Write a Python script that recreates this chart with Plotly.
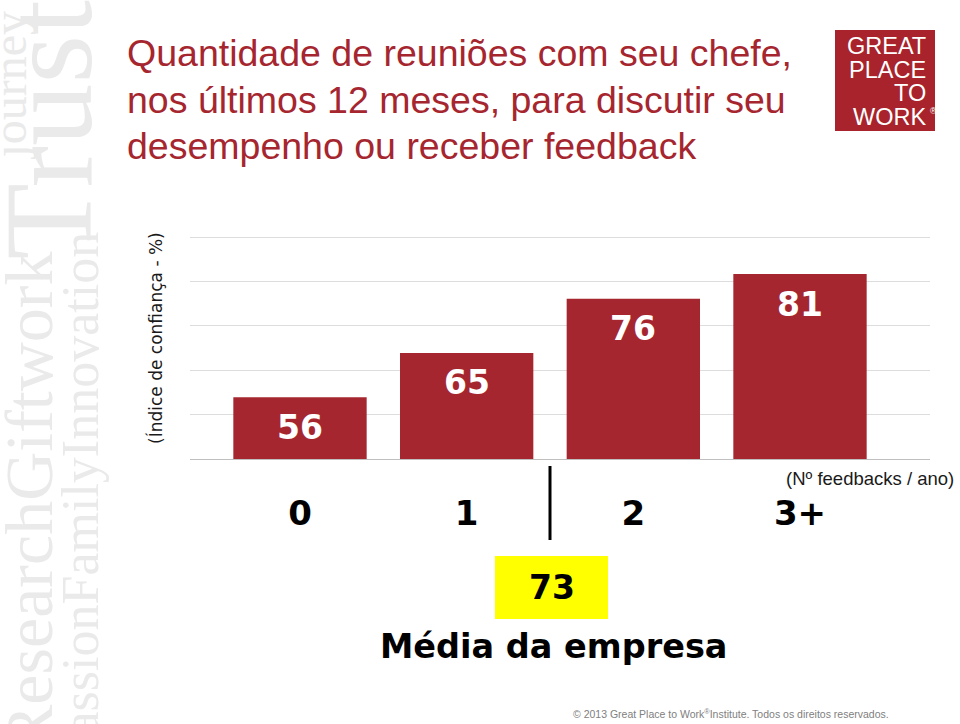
import plotly.graph_objects as go

# ---------------- data ----------------
categories = ["0", "1", "2", "3+"]
trust_index = [56, 65, 76, 81]
company_average = 73
title_lines = [
    "Quantidade de reuniões com seu chefe,",
    "nos últimos 12 meses, para discutir seu",
    "desempenho ou receber feedback",
]
y_title = "(Índice de confiança - %)"
x_title = "(Nº feedbacks / ano)"
avg_label = "Média da empresa"
footer = "© 2013 Great Place to Work<sup>®</sup>Institute. Todos os direitos reservados."
logo_lines = ["GREAT", "PLACE", "TO", "WORK"]
watermark_words = ["journey", "Trust", "ResearchGiftwork", "passionFamilyInnovation"]

# ---------------- layout helpers ----------------
W, H = 960, 724
ML, MR, MT, MB = 190, 30, 234, 265
PW, PH = W - ML - MR, H - MT - MB


def px(x):
    return (x - ML) / PW


def py(y):
    return (H - MB - y) / PH


RED = "#A6262F"
WM = "#EAEAEA"

fig = go.Figure()
fig.add_trace(go.Bar(
    x=categories, y=trust_index, width=0.8,
    marker=dict(color=RED, line=dict(width=0)),
    hoverinfo="skip",
))

ann = []
shapes = []

# watermark (rotated, reading bottom to top)
ann.append(dict(text=watermark_words[0], x=px(9), y=py(162), xanchor="center", yanchor="bottom",
                textangle=-90, font=dict(family="Liberation Serif", size=48, color=WM)))
ann.append(dict(text=watermark_words[1], x=px(48), y=py(262), xanchor="center", yanchor="bottom",
                textangle=-90, font=dict(family="Liberation Serif", size=125, color=WM)))
ann.append(dict(text=watermark_words[2], x=px(29), y=py(250), xanchor="center", yanchor="top",
                textangle=-90, font=dict(family="Liberation Serif", size=68, color=WM)))
ann.append(dict(text=watermark_words[3], x=px(80), y=py(230), xanchor="center", yanchor="top",
                textangle=-90, font=dict(family="Liberation Serif", size=52, color=WM)))

# title
for i, line in enumerate(title_lines):
    ann.append(dict(text=line, x=px(125), y=py(53 + 46.5 * i), xanchor="left", yanchor="middle",
                    font=dict(family="Liberation Sans", size=37.5, color=RED)))

# logo
shapes.append(dict(type="rect", xref="paper", yref="paper", x0=px(835), x1=px(935),
                   y0=py(131), y1=py(30), fillcolor="#A8232B", line=dict(width=0), layer="above"))
for i, line in enumerate(logo_lines):
    ann.append(dict(text=line, x=px(927.5), y=py(46 + 23.7 * i), xanchor="right", yanchor="middle",
                    font=dict(family="Liberation Sans", size=23.5, color="white")))
ann.append(dict(text="®", x=px(928), y=py(111), xanchor="left", yanchor="middle",
                font=dict(family="Liberation Sans", size=9, color="white")))

# bar value labels
for c, v in zip(categories, trust_index):
    ann.append(dict(text=str(v), x=c, y=v, xref="x", yref="y", xanchor="center", yanchor="middle",
                    yshift=-30, showarrow=False,
                    font=dict(family="DejaVu Sans", size=33, color="white", weight="bold")))

# y axis title
ann.append(dict(text=y_title, x=px(155), y=py(338), xanchor="center", yanchor="middle", textangle=-90,
                font=dict(family="DejaVu Sans", size=17, color="#1a1a1a")))
# x axis note
ann.append(dict(text=x_title, x=px(784), y=py(478), xanchor="left", yanchor="middle",
                font=dict(family="Liberation Sans", size=18.5, color="#1a1a1a")))

# company average marker
shapes.append(dict(type="line", xref="x", yref="paper", x0=1.5, x1=1.5, y0=py(466), y1=py(540),
                   line=dict(color="black", width=3)))
shapes.append(dict(type="rect", xref="paper", yref="paper", x0=px(495), x1=px(608),
                   y0=py(619), y1=py(556), fillcolor="#FFFF00", line=dict(width=0)))
ann.append(dict(text=str(company_average), x=px(551.5), y=py(587), xanchor="center", yanchor="middle",
                font=dict(family="DejaVu Sans", size=33, color="black", weight="bold")))
ann.append(dict(text=avg_label, x=px(553), y=py(646), xanchor="center", yanchor="middle",
                font=dict(family="DejaVu Sans", size=33.5, color="black", weight="bold")))

# footer
ann.append(dict(text=footer, x=px(571), y=py(713), xanchor="left", yanchor="middle",
                font=dict(family="Liberation Sans", size=10.5, color="#808080")))

for a in ann:
    a.setdefault("xref", "paper")
    a.setdefault("yref", "paper")
    a.setdefault("showarrow", False)

# y range chosen so that the gridline at 88.5 sits at y=237 px, baseline (43.5) at 459 px
y_lo = 43.5
y_hi = 43.5 + 45 * PH / 222.0

fig.update_layout(
    width=W, height=H, autosize=False,
    margin=dict(l=ML, r=MR, t=MT, b=MB, pad=0),
    paper_bgcolor="white", plot_bgcolor="white",
    showlegend=False,
    annotations=ann, shapes=shapes,
    xaxis=dict(type="category", range=[-0.66, 3.78], showgrid=False, zeroline=False,
               showline=True, linecolor="#BFBFBF", linewidth=1, ticks="",
               tickfont=dict(family="DejaVu Sans", size=34, color="black", weight="bold"),
               ticklabelstandoff=24, fixedrange=True),
    yaxis=dict(range=[y_lo, y_hi], tick0=43.5, dtick=9, showticklabels=False,
               showgrid=True, gridcolor="#DDDDDD", gridwidth=1, zeroline=False,
               showline=False, ticks="", fixedrange=True),
)

fig.write_html("out.html", config={"displayModeBar": False})
